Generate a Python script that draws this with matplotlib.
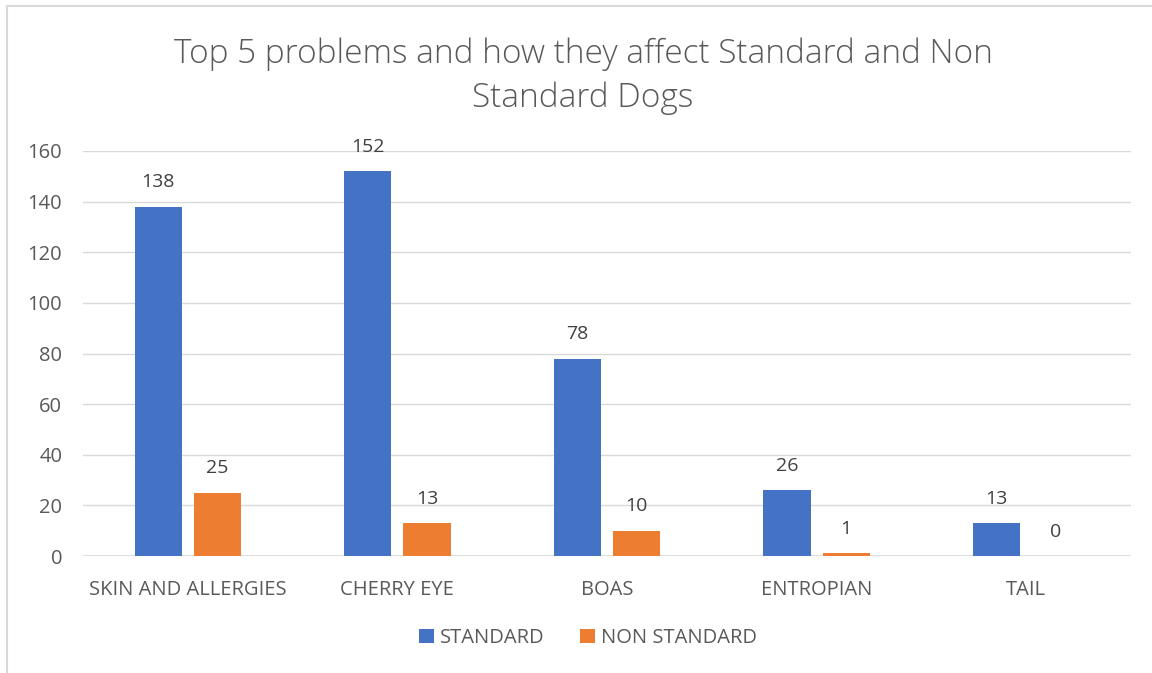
import matplotlib.pyplot as plt
import matplotlib.patches as mpatches
import numpy as np

categories = ["SKIN AND ALLERGIES", "CHERRY EYE", "BOAS", "ENTROPIAN", "TAIL"]
standard = [138, 152, 78, 26, 13]
non_standard = [25, 13, 10, 1, 0]
series_names = ["STANDARD", "NON STANDARD"]

BLUE = "#4472C4"
ORANGE = "#ED7D31"
TEXT = "#595959"
GRID = "#D9D9D9"

plt.rcParams['font.family'] = ['Open Sans', 'DejaVu Sans']

fig = plt.figure(figsize=(11.52, 6.73), dpi=100)
ax = fig.add_axes([83 / 1152, 1 - 556 / 673, (1131 - 83) / 1152, (556 - 151) / 673])

# chart frame (only left and top visible in the reference)
fig.patches.append(mpatches.Rectangle((7 / 1152, -0.05), 1.2, 1 - 6 / 673 + 0.05,
                                      transform=fig.transFigure, fill=False,
                                      edgecolor=GRID, linewidth=1.5))

x = np.arange(len(categories))
w = 0.225
off = 0.141
b1 = ax.bar(x - off, standard, w, color=BLUE, label=series_names[0], zorder=2)
b2 = ax.bar(x + off, non_standard, w, color=ORANGE, label=series_names[1], zorder=2)

for bars in (b1, b2):
    for rect in bars:
        h = rect.get_height()
        ax.annotate(str(int(h)), (rect.get_x() + rect.get_width() / 2, h),
                    xytext=(0, 11), textcoords="offset points",
                    ha="center", va="bottom", fontsize=14, color="#404040")

ax.set_xlim(-0.5, len(categories) - 0.5)
ax.set_ylim(0, 160)
ax.set_yticks(range(0, 161, 20))
ax.set_xticks(x)
ax.set_xticklabels(categories)
ax.tick_params(axis="both", length=0, labelsize=14.5, colors=TEXT)
ax.tick_params(axis="y", pad=15)
ax.tick_params(axis="x", pad=17)
ax.grid(axis="y", color=GRID, linewidth=1, zorder=0)
for s in ax.spines.values():
    s.set_visible(False)
ax.axhline(0, color=GRID, linewidth=1.2, zorder=1)

fig.text(583 / 1152, 1 - 76 / 673,
         "Top 5 problems and how they affect Standard and Non\nStandard Dogs",
         ha="center", va="center", fontsize=24, color=TEXT, fontweight="light",
         linespacing=1.42)

fig.legend(handles=[b1, b2], labels=series_names, loc="center",
           bbox_to_anchor=(588 / 1152, 1 - 638 / 673), ncol=2, frameon=False,
           fontsize=14.5, labelcolor=TEXT, handlelength=0.7, handleheight=0.7,
           handletextpad=0.3, columnspacing=1.8)

fig.savefig("out.png", dpi=100)
